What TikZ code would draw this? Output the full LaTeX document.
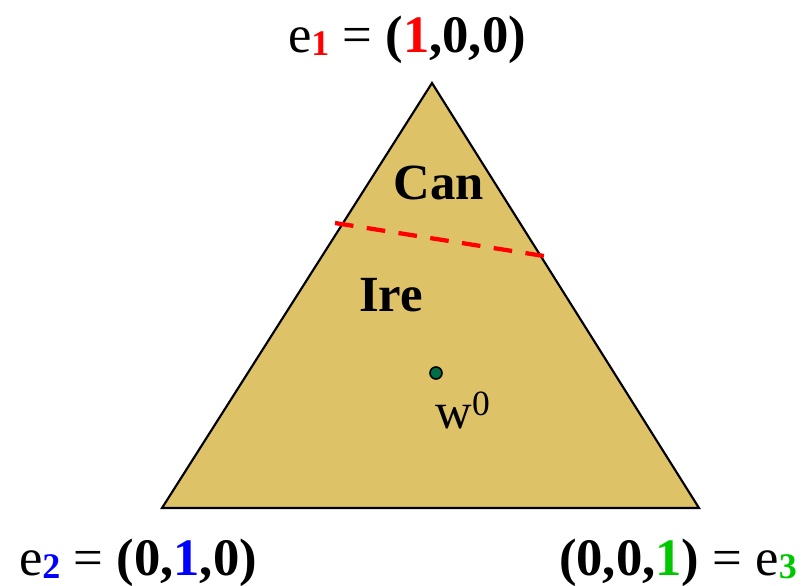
\documentclass[tikz,border=0pt]{standalone}
\usepackage{fontspec}
\setmainfont{Liberation Serif}
\definecolor{tan}{RGB}{222,194,104}
\definecolor{dotgreen}{RGB}{0,110,70}
\definecolor{myblue}{RGB}{0,0,255}
\definecolor{mygreen}{RGB}{0,200,0}
\newcommand{\mysub}[2]{\raisebox{-2.5pt}{\fontsize{27}{30}\selectfont\bfseries\textcolor{#1}{#2}}}
\begin{document}
\begin{tikzpicture}[x=0.75pt,y=-0.75pt,
  lbl/.style={inner sep=0pt,anchor=base,font=\fontsize{39.5}{44}\selectfont},
  word/.style={inner sep=0pt,anchor=base,font=\fontsize{38}{44}\selectfont}]
\useasboundingbox (0,0) rectangle (812,585);
\coordinate (A) at (432,83);
\coordinate (B) at (162,508);
\coordinate (C) at (699,508);
\filldraw[fill=tan,draw=black,line width=1.6pt,line join=miter] (A) -- (B) -- (C) -- cycle;
\coordinate (d1) at (335,223);
\coordinate (d2) at (544,256);
\draw[red,line width=3.2pt,dash pattern=on 14pt off 10.1pt] (d1) -- (d2);
\node[lbl] (t1) at (407,52) {e\mysub{red}{1} = \textbf{(\textcolor{red}{1},0,0)}};
\node[lbl] (t2) at (138,575) {e\mysub{myblue}{2} = \textbf{(0,\textcolor{myblue}{1},0)}};
\node[lbl] (t3) at (678,575) {\textbf{(0,0,\textcolor{mygreen}{1})} = e\mysub{mygreen}{3}};
\node[word] (can) at (439,199) {\textbf{Can}};
\node[word] (ire) at (391,311) {\textbf{Ire}};
\node[circle,fill=dotgreen,draw=black,line width=1.2pt,minimum size=9pt,inner sep=0pt] (w) at (436,373) {};
\node[word] (wl) at (463,428) {w\textsuperscript{0}};
\end{tikzpicture}
\end{document}
